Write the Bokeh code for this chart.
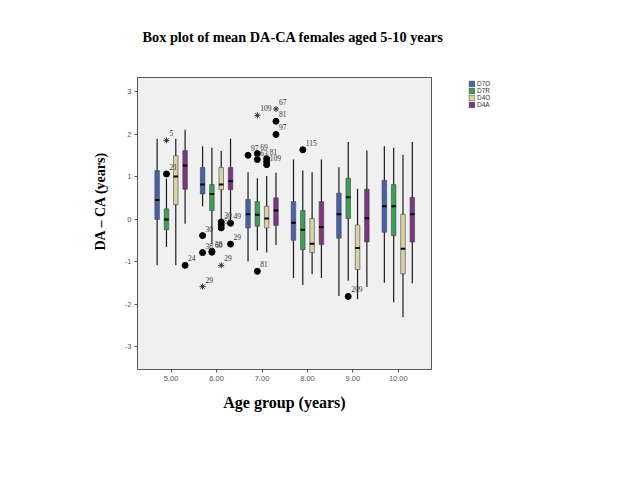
from bokeh.plotting import figure
from bokeh.models import (Range1d, FixedTicker, PrintfTickFormatter, Title, Legend,
                          LegendItem, ColumnDataSource)
from bokeh.embed import file_html
from bokeh.resources import INLINE

# ---------------- data ----------------
ages = [5, 6, 7, 8, 9, 10]
age_ticks = [5, 6, 7, 8, 9, 10]
y_ticks = [-3, -2, -1, 0, 1, 2, 3]
series = ["D7O", "D7R", "D4O", "D4A"]

d7o_low = [-1.08, 0.31, -0.99, -1.38, -1.80, -1.49]
d7o_q1 = [0.00, 0.60, -0.20, -0.49, -0.44, -0.30]
d7o_med = [0.46, 0.82, 0.12, -0.08, 0.12, 0.31]
d7o_q3 = [1.15, 1.22, 0.47, 0.42, 0.62, 0.92]
d7o_high = [1.90, 1.72, 1.11, 1.41, 1.23, 1.72]

d7r_low = [-0.65, -0.57, -0.73, -1.54, -1.44, -1.95]
d7r_q1 = [-0.24, 0.21, -0.16, -0.71, 0.02, -0.38]
d7r_med = [0.00, 0.60, 0.11, -0.24, 0.52, 0.31]
d7r_q3 = [0.25, 0.82, 0.42, 0.21, 0.97, 0.82]
d7r_high = [0.96, 1.69, 0.97, 1.15, 1.82, 1.69]

d4o_low = [-1.08, 0.00, -0.78, -1.29, -1.88, -2.30]
d4o_q1 = [0.35, 0.70, -0.20, -0.78, -1.18, -1.28]
d4o_med = [1.01, 0.82, 0.02, -0.57, -0.67, -0.69]
d4o_q3 = [1.50, 1.22, 0.31, 0.02, -0.13, 0.12]
d4o_high = [1.90, 1.61, 1.02, 1.11, 0.72, 1.52]

d4a_low = [-0.10, -0.05, -0.60, -1.38, -1.59, -1.50]
d4a_q1 = [0.71, 0.70, -0.14, -0.59, -0.53, -0.53]
d4a_med = [1.27, 0.90, 0.21, -0.18, 0.03, 0.12]
d4a_q3 = [1.62, 1.22, 0.51, 0.42, 0.71, 0.52]
d4a_high = [2.11, 1.90, 1.10, 1.41, 1.62, 1.82]

# outliers: age group, series, value, case label, kind
out_age = [5, 5, 5, 6, 6, 6, 6, 6, 6, 6, 6, 6, 6, 6,
           7, 7, 7, 7, 7, 7, 7, 7, 7, 7, 7, 8, 9]
out_series = ["D7R", "D7R", "D4A", "D7O", "D7O", "D7O", "D7R", "D7R", "D4O", "D4O", "D4O",
              "D4A", "D4A", "D4O",
              "D7O", "D7R", "D7R", "D4O", "D4O", "D4O", "D7R", "D4A", "D4A", "D4A", "D7R",
              "D7R", "D7R"]
out_value = [1.86, 1.07, -1.08, -0.38, -0.78, -1.58, -0.75, -0.77, -0.06, -0.13, -0.20,
             -0.09, -0.58, -1.08,
             1.51, 1.55, 1.41, 1.43, 1.36, 1.29, 2.45, 2.60, 2.31, 2.00, -1.22,
             1.64, -1.81]
out_label = ["5", "21", "24", "30", "38", "29", "38", "60", "30", "", "56",
             "49", "29", "29",
             "97", "69", "63", "81", "", "109", "109", "67", "81", "97", "81",
             "115", "209"]
out_kind = ["star", "dot", "dot", "dot", "dot", "star", "dot", "dot", "dot", "dot", "dot",
            "dot", "dot", "star",
            "dot", "dot", "dot", "dot", "dot", "dot", "star", "star", "dot", "dot", "dot",
            "dot", "dot"]

# ---------------- style ----------------
colors = {"D7O": "#4862a8", "D7R": "#3c9e57", "D4O": "#d8d2a5", "D4A": "#7c3580"}
offsets = {"D7O": -0.3075, "D7R": -0.1025, "D4O": 0.1025, "D4A": 0.3075}
box_w = 0.1
serif = "Liberation Serif"
sans = "Liberation Sans"

stats = {
    "D7O": (d7o_low, d7o_q1, d7o_med, d7o_q3, d7o_high),
    "D7R": (d7r_low, d7r_q1, d7r_med, d7r_q3, d7r_high),
    "D4O": (d4o_low, d4o_q1, d4o_med, d4o_q3, d4o_high),
    "D4A": (d4a_low, d4a_q1, d4a_med, d4a_q3, d4a_high),
}

p = figure(frame_width=294, frame_height=292,
           min_border_left=137, min_border_right=193, min_border_top=77, min_border_bottom=95,
           x_range=Range1d(4.26, 10.73), y_range=Range1d(-3.53, 3.34),
           output_backend="svg", toolbar_location=None,
           background_fill_color="#f0f0f0", border_fill_color="white")
p.outline_line_color = "#555555"
p.outline_line_width = 1
p.grid.visible = False

for ax in (p.xaxis[0], p.yaxis[0]):
    ax.axis_line_color = None
    ax.major_tick_in = 0
    ax.major_tick_out = 3
    ax.minor_tick_out = 0
    ax.minor_tick_in = 0
    ax.major_tick_line_color = "#555555"
    ax.major_label_text_font = sans
    ax.major_label_text_font_size = "7.5px"
    ax.major_label_text_color = "#555555"
    ax.major_label_standoff = 3

p.xaxis.ticker = FixedTicker(ticks=age_ticks)
p.xaxis.formatter = PrintfTickFormatter(format="%.2f")
p.yaxis.ticker = FixedTicker(ticks=y_ticks)
p.yaxis.formatter = PrintfTickFormatter(format="%d")

p.xaxis.axis_label = "Age group (years)"
p.xaxis.axis_label_text_font = serif
p.xaxis.axis_label_text_font_style = "bold"
p.xaxis.axis_label_text_font_size = "16px"
p.xaxis.axis_label_text_color = "black"
p.xaxis.axis_label_standoff = 10

legend_items = []
for s in series:
    low, q1, med, q3, high = stats[s]
    xs = [a + offsets[s] for a in ages]
    src = ColumnDataSource(dict(x=xs, low=low, q1=q1, med=med, q3=q3, high=high,
                                x0=[x - box_w / 2 for x in xs], x1=[x + box_w / 2 for x in xs]))
    p.segment(x0="x", y0="low", x1="x", y1="high", source=src,
              line_color="#1a1a1a", line_width=1.2)
    r = p.vbar(x="x", width=box_w, bottom="q1", top="q3", source=src,
               fill_color=colors[s], line_color="#444444", line_width=0.6)
    p.segment(x0="x0", y0="med", x1="x1", y1="med", source=src,
              line_color="black", line_width=2)
    legend_items.append(LegendItem(label=s, renderers=[r]))

ox = [a + offsets[s] for a, s in zip(out_age, out_series)]
osrc = ColumnDataSource(dict(x=ox, y=out_value, label=out_label))
dot_idx = [i for i, k in enumerate(out_kind) if k == "dot"]
star_idx = [i for i, k in enumerate(out_kind) if k == "star"]
dsrc = ColumnDataSource(dict(x=[ox[i] for i in dot_idx], y=[out_value[i] for i in dot_idx]))
ssrc = ColumnDataSource(dict(x=[ox[i] for i in star_idx], y=[out_value[i] for i in star_idx]))
p.scatter(x="x", y="y", source=dsrc, marker="circle", size=6,
          fill_color="black", line_color="black")
p.scatter(x="x", y="y", source=ssrc, marker="asterisk", size=6,
          line_color="#333333", line_width=1)
p.text(x="x", y="y", text="label", source=osrc, x_offset=3, y_offset=-7,
       text_font=sans, text_font_size="7.5px", text_color="#333333",
       text_align="left", text_baseline="middle")

legend = Legend(items=legend_items, location=(37, 261), padding=0, spacing=0,
                glyph_width=7, glyph_height=7, label_height=7, label_standoff=2,
                label_text_font=sans, label_text_font_size="6.5px", label_text_color="#333333",
                border_line_color=None, background_fill_alpha=0, margin=0)
p.add_layout(legend, "right")

p.add_layout(Title(text="DA \u2013 CA (years)", align="left", offset=119,
                   text_font=serif, text_font_style="bold", text_font_size="14px",
                   text_color="black", standoff=28), "left")
# empty spacer title between the frame and the main title
p.add_layout(Title(text=" ", text_font_size="10px", standoff=20), "above")
p.add_layout(Title(text="Box plot of mean DA-CA females aged 5-10 years", align="left", offset=5,
                   text_font=serif, text_font_style="bold", text_font_size="14.3px",
                   text_color="black", standoff=0), "above")

open("out.html", "w").write(file_html(p, INLINE))
